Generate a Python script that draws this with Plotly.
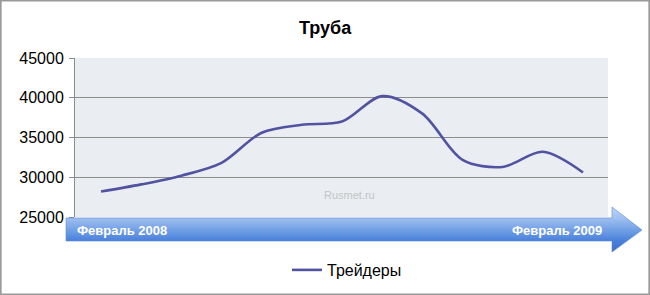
import plotly.graph_objects as go

W, H = 650, 295

months = ["Фев 2008", "Мар 2008", "Апр 2008", "Май 2008", "Июн 2008", "Июл 2008",
          "Авг 2008", "Сен 2008", "Окт 2008", "Ноя 2008", "Дек 2008", "Янв 2009", "Фев 2009"]
traders = [28200, 29100, 30200, 31800, 35600, 36600, 37000, 40200, 38000, 32200, 31300, 33200, 30600]
series_name = "Трейдеры"
title_text = "Труба"
start_label = "Февраль 2008"
end_label = "Февраль 2009"
y_ticks = [25000, 30000, 35000, 40000, 45000]
y_tick_labels = ["25000", "30000", "35000", "40000", "45000"]

# plot area in pixels
L, R, T, B = 75, 608, 58, 217

def px(x):
    return x / W

def py(y):
    return 1 - y / H

idx = list(range(len(months)))

fig = go.Figure()
fig.add_trace(go.Scatter(
    x=idx, y=traders, mode="lines", name=series_name,
    line=dict(color="#5253a0", width=2.6, shape="spline", smoothing=0.9),
    text=months, hoverinfo="text+y",
    xaxis="x", yaxis="y",
))

# timeline arrow on a pixel-space overlay axis
ax = [66, 612, 612, 642, 612, 612, 66, 66]
ay = [218, 218, 207, 230, 252, 241, 241, 218]
fig.add_trace(go.Scatter(
    x=ax, y=ay, mode="lines", fill="toself", showlegend=False, hoverinfo="skip",
    line=dict(width=0.6, color="#5b8ad8"),
    fillgradient=dict(type="vertical", start=207, stop=252,
                      colorscale=[[0, "#bcd3f6"], [0.23, "#a3c2f1"], [0.55, "#6b9be4"],
                                  [0.75, "#4a80da"], [1, "#3a6ecb"]]),
    xaxis="x2", yaxis="y2",
))

# x range so that first point lands at px 101 and last at px 583
scale = (583 - 101) / (len(months) - 1)
xr = [-(101 - L) / scale, (len(months) - 1) + (R - 583) / scale]

fig.update_layout(
    width=W, height=H,
    margin=dict(l=0, r=0, t=0, b=0, autoexpand=False),
    paper_bgcolor="white",
    plot_bgcolor="rgba(0,0,0,0)",
    font=dict(family="Liberation Sans, Arial, sans-serif", color="black"),
    xaxis=dict(domain=[px(L), px(R)], range=xr, visible=False, fixedrange=True),
    yaxis=dict(domain=[py(B), py(T)], range=[25000, 45000], tickvals=y_ticks,
               ticktext=y_tick_labels,
               showgrid=True, gridcolor="#8c8c8c", gridwidth=1,
               showline=True, linecolor="#8c8c8c", linewidth=1,
               ticks="outside", ticklen=5, tickcolor="#8c8c8c",
               tickfont=dict(size=16, color="black"), ticklabelstandoff=2,
               zeroline=False, fixedrange=True, automargin=False),
    xaxis2=dict(domain=[0, 1], range=[0, W], visible=False, fixedrange=True),
    yaxis2=dict(domain=[0, 1], range=[H, 0], visible=False, fixedrange=True),
    showlegend=True,
    legend=dict(orientation="h", x=px(287), xanchor="left", y=py(270), yanchor="middle",
                font=dict(size=16, color="black"), bgcolor="rgba(0,0,0,0)"),
    shapes=[
        dict(type="rect", xref="paper", yref="paper", x0=px(L), x1=px(R), y0=py(B), y1=py(T),
             fillcolor="#eaeef3", line=dict(width=0), layer="below"),
        dict(type="rect", xref="paper", yref="paper", x0=0.001, x1=0.999, y0=0.002, y1=0.998,
             line=dict(color="#9a9a9a", width=2), fillcolor="rgba(0,0,0,0)", layer="above"),
    ],
    annotations=[
        dict(text="<b>" + title_text + "</b>", xref="paper", yref="paper", x=0.5, y=py(28),
             xanchor="center", yanchor="middle", showarrow=False,
             font=dict(size=18, color="black")),
        dict(text="<b>" + start_label + "</b>", xref="paper", yref="paper", x=px(75), y=py(230),
             xanchor="left", yanchor="middle", showarrow=False,
             font=dict(size=13, color="white")),
        dict(text="<b>" + end_label + "</b>", xref="paper", yref="paper", x=px(604), y=py(230),
             xanchor="right", yanchor="middle", showarrow=False,
             font=dict(size=13, color="white")),
        dict(text="Rusmet.ru", xref="paper", yref="paper", x=px(322), y=py(195),
             xanchor="left", yanchor="middle", showarrow=False,
             font=dict(size=11, color="#c4c4c4")),
    ],
)

fig.write_html("out.html")
